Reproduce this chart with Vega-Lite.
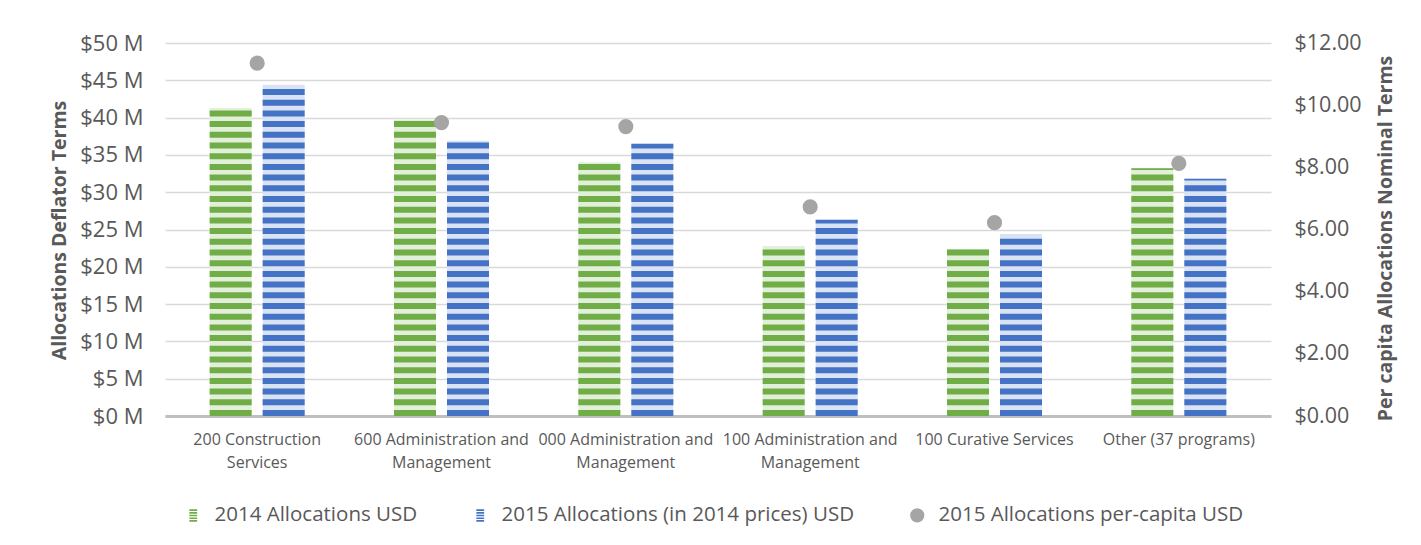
{
  "$schema": "https://vega.github.io/schema/vega-lite/v6.json",
  "width": 1106,
  "height": 373,
  "autosize": {"type": "none"},
  "padding": {"left": 165, "top": 43, "right": 150, "bottom": 129},
  "background": "white",
  "config": {
    "view": {"stroke": null},
    "font": "Open Sans",
    "axis": {"labelColor": "#595959", "titleColor": "#595959"}
  },
  "datasets": {
    "bars": [
      {"program": "200 Construction Services", "series": "2014 Allocations USD", "value": 41.3},
      {"program": "200 Construction Services", "series": "2015 Allocations (in 2014 prices) USD", "value": 44.4},
      {"program": "600 Administration and Management", "series": "2014 Allocations USD", "value": 39.7},
      {"program": "600 Administration and Management", "series": "2015 Allocations (in 2014 prices) USD", "value": 36.9},
      {"program": "000 Administration and Management", "series": "2014 Allocations USD", "value": 34.0},
      {"program": "000 Administration and Management", "series": "2015 Allocations (in 2014 prices) USD", "value": 36.5},
      {"program": "100 Administration and Management", "series": "2014 Allocations USD", "value": 22.8},
      {"program": "100 Administration and Management", "series": "2015 Allocations (in 2014 prices) USD", "value": 26.3},
      {"program": "100 Curative Services", "series": "2014 Allocations USD", "value": 22.4},
      {"program": "100 Curative Services", "series": "2015 Allocations (in 2014 prices) USD", "value": 24.4},
      {"program": "Other (37 programs)", "series": "2014 Allocations USD", "value": 33.2},
      {"program": "Other (37 programs)", "series": "2015 Allocations (in 2014 prices) USD", "value": 31.8}
    ],
    "percap": [
      {"program": "200 Construction Services", "series": "2015 Allocations per-capita USD", "value": 11.35},
      {"program": "600 Administration and Management", "series": "2015 Allocations per-capita USD", "value": 9.44},
      {"program": "000 Administration and Management", "series": "2015 Allocations per-capita USD", "value": 9.31},
      {"program": "100 Administration and Management", "series": "2015 Allocations per-capita USD", "value": 6.73},
      {"program": "100 Curative Services", "series": "2015 Allocations per-capita USD", "value": 6.22},
      {"program": "Other (37 programs)", "series": "2015 Allocations per-capita USD", "value": 8.13}
    ]
  },
  "layer": [
    {
      "data": {"name": "bars"},
      "layer": [
        {
          "mark": {"type": "bar"},
          "encoding": {
            "x": {
              "field": "program", "type": "nominal", "title": null,
              "scale": {
                "domain": ["200 Construction Services", "600 Administration and Management", "000 Administration and Management", "100 Administration and Management", "100 Curative Services", "Other (37 programs)"],
                "paddingInner": 0.4846, "paddingOuter": 0.2423
              },
              "axis": {
                "labelAngle": 0, "labelFontSize": 16, "labelPadding": 15, "labelLineHeight": 23,
                "labelLimit": 400, "ticks": false, "domainColor": "#bfbfbf", "domainWidth": 3, "grid": false,
                "labelOverlap": false,
                "labelExpr": "datum.label == '200 Construction Services' ? ['200 Construction', 'Services'] : datum.label == '600 Administration and Management' ? ['600 Administration and', 'Management'] : datum.label == '000 Administration and Management' ? ['000 Administration and', 'Management'] : datum.label == '100 Administration and Management' ? ['100 Administration and', 'Management'] : datum.label"
              }
            },
            "xOffset": {
              "field": "series", "type": "nominal",
              "scale": {"domain": ["2014 Allocations USD", "2015 Allocations (in 2014 prices) USD"], "paddingInner": 0.2075, "paddingOuter": 0}
            },
            "y": {
              "field": "value", "type": "quantitative",
              "title": "Allocations Deflator Terms",
              "scale": {"domain": [0, 50], "nice": false},
              "axis": {
                "values": [0, 5, 10, 15, 20, 25, 30, 35, 40, 45, 50],
                "labelExpr": "'$' + datum.value + ' M'",
                "labelFontSize": 22, "labelPadding": 22, "ticks": false, "domain": false,
                "labelOverlap": false,
                "grid": true, "gridColor": "#d9d9d9", "gridWidth": 1.3,
                "titleFontSize": 19.5, "titleFontWeight": "bold",
                "titleX": -106, "titleY": 187, "titleAngle": 270, "titleAlign": "center", "titleBaseline": "middle"
              }
            },
            "fill": {
              "condition": {"test": "datum.series === '2014 Allocations USD'", "value": "#e2efda"},
              "value": "#dae3f3"
            }
          }
        },
        {
          "mark": {"type": "rule", "strokeWidth": 42, "strokeDash": [6, 4.7], "strokeCap": "butt", "strokeDashOffset": {"expr": "6 - datum.value / 50 * 373"}},
          "encoding": {
            "x": {"field": "program", "type": "nominal", "title": null},
            "xOffset": {"field": "series", "type": "nominal"},
            "y": {
              "field": "value", "type": "quantitative",
              "title": "Allocations Deflator Terms",
              "axis": {
                "values": [0, 5, 10, 15, 20, 25, 30, 35, 40, 45, 50],
                "labelExpr": "'$' + datum.value + ' M'",
                "labelFontSize": 22, "labelPadding": 22, "ticks": false, "domain": false,
                "labelOverlap": false,
                "grid": true, "gridColor": "#d9d9d9", "gridWidth": 1.3,
                "titleFontSize": 19.5, "titleFontWeight": "bold",
                "titleX": -106, "titleY": 187, "titleAngle": 270, "titleAlign": "center", "titleBaseline": "middle"
              }
            },
            "y2": {"datum": 0},
            "stroke": {
              "condition": {"test": "datum.series === '2014 Allocations USD'", "value": "#70ad47"},
              "value": "#4472c4"
            }
          }
        }
      ]
    },
    {
      "data": {"name": "percap"},
      "mark": {"type": "point", "filled": true, "opacity": 1, "size": 230},
      "encoding": {
        "x": {"field": "program", "type": "nominal", "title": null},
        "y": {
          "field": "value", "type": "quantitative",
          "title": "Per capita Allocations Nominal Terms",
          "scale": {"domain": [0, 12], "nice": false},
          "axis": {
            "orient": "right", "values": [0, 2, 4, 6, 8, 10, 12], "format": "$.2f",
            "labelFontSize": 21.5, "labelPadding": 23, "ticks": false, "domain": false, "grid": false,
            "labelOverlap": false,
            "titleFontSize": 19.5, "titleFontWeight": "bold",
            "titleX": 114, "titleY": 195, "titleAngle": 270, "titleAlign": "center", "titleBaseline": "middle"
          }
        },
        "color": {
          "field": "series", "type": "nominal",
          "scale": {
            "domain": ["2014 Allocations USD", "2015 Allocations (in 2014 prices) USD", "2015 Allocations per-capita USD"],
            "range": ["#70ad47", "#4472c4", "#a5a5a5"]
          },
          "legend": {
            "title": null, "orient": "none", "legendX": 18, "legendY": 462, "direction": "horizontal",
            "labelFontSize": 20.5, "labelColor": "#595959", "labelLimit": 600, "columnPadding": 52, "labelOffset": 11,
            "symbolStrokeWidth": 0, "symbolSize": 200
          }
        },
        "shape": {
          "field": "series", "type": "nominal",
          "scale": {
            "domain": ["2014 Allocations USD", "2015 Allocations (in 2014 prices) USD", "2015 Allocations per-capita USD"],
            "range": [
              "M-0.55,-0.85H0.55V-0.62H-0.55Z M-0.55,-0.47H0.55V-0.24H-0.55Z M-0.55,-0.09H0.55V0.14H-0.55Z M-0.55,0.29H0.55V0.52H-0.55Z M-0.55,0.67H0.55V0.9H-0.55Z",
              "M-0.55,-0.85H0.55V-0.62H-0.55Z M-0.55,-0.47H0.55V-0.24H-0.55Z M-0.55,-0.09H0.55V0.14H-0.55Z M-0.55,0.29H0.55V0.52H-0.55Z M-0.55,0.67H0.55V0.9H-0.55Z",
              "circle"
            ]
          },
          "legend": {
            "title": null, "orient": "none", "legendX": 18, "legendY": 462, "direction": "horizontal",
            "labelFontSize": 20.5, "labelColor": "#595959", "labelLimit": 600, "columnPadding": 52, "labelOffset": 11,
            "symbolStrokeWidth": 0, "symbolSize": 200
          }
        }
      }
    }
  ],
  "resolve": {"scale": {"y": "independent"}}
}
